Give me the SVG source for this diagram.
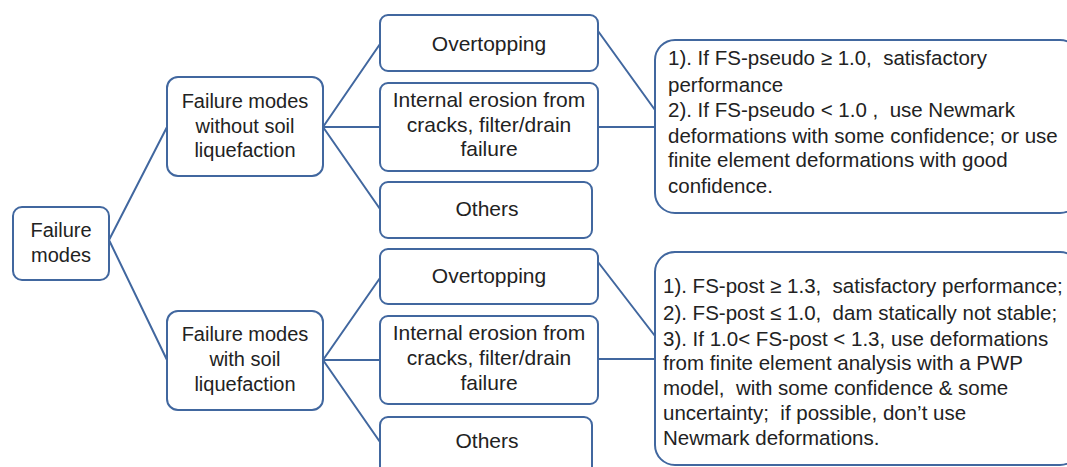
<svg xmlns="http://www.w3.org/2000/svg" width="1067" height="467" viewBox="0 0 1067 467">
<style>
.box{fill:#ffffff;stroke:#41679f;stroke-width:2}
.ln{fill:none;stroke:#41679f;stroke-width:2}
text{font-family:"Liberation Sans",Arial,sans-serif;font-size:20px;fill:#222222;white-space:pre}
.c{text-anchor:middle}
.m{font-size:21px}
.t{font-size:20.5px}
</style>
<rect width="1067" height="467" fill="#ffffff"/>
<g id="connectors">
<path class="ln" d="M109,240 L167,127 M109,240 L167,360"/>
<path class="ln" d="M323,127 L380,44 M323,127 L380,127 M323,127 L380,209"/>
<path class="ln" d="M323,360 L380,278 M323,360 L380,360 M323,360 L380,442"/>
<path class="ln" d="M598,31 L655,110 M598,127 L655,127"/>
<path class="ln" d="M598,262 L655,336 M598,359 L655,359"/>
</g>
<g id="root">
<rect class="box" x="13" y="207" width="96" height="73" rx="9"/>
<text class="c" x="61" y="237">Failure</text>
<text class="c" x="61" y="262">modes</text>
</g>
<g id="without">
<rect class="box" x="167" y="77" width="156" height="99" rx="11"/>
<text class="c" x="245" y="108">Failure modes</text>
<text class="c" x="245" y="133">without soil</text>
<text class="c" x="245" y="157">liquefaction</text>
</g>
<g id="with">
<rect class="box" x="167" y="311" width="156" height="99" rx="11"/>
<text class="c" x="245" y="341">Failure modes</text>
<text class="c" x="245" y="366">with soil</text>
<text class="c" x="245" y="391">liquefaction</text>
</g>
<g id="overtopping1">
<rect class="box" x="380" y="15" width="218" height="56" rx="8"/>
<text class="c m" x="489" y="51">Overtopping</text>
</g>
<g id="erosion1">
<rect class="box" x="380" y="83" width="218" height="88" rx="8"/>
<text class="c m" x="489" y="107">Internal erosion from</text>
<text class="c m" x="489" y="132">cracks, filter/drain</text>
<text class="c m" x="489" y="156">failure</text>
</g>
<g id="others1">
<rect class="box" x="380" y="182" width="212" height="56" rx="8"/>
<text class="c m" x="487" y="216">Others</text>
</g>
<g id="overtopping2">
<rect class="box" x="380" y="249" width="218" height="55" rx="8"/>
<text class="c m" x="489" y="283">Overtopping</text>
</g>
<g id="erosion2">
<rect class="box" x="380" y="316" width="218" height="88" rx="8"/>
<text class="c m" x="489" y="340">Internal erosion from</text>
<text class="c m" x="489" y="365">cracks, filter/drain</text>
<text class="c m" x="489" y="390">failure</text>
</g>
<g id="others2">
<rect class="box" x="380" y="417" width="212" height="60" rx="8"/>
<text class="c m" x="487" y="448">Others</text>
</g>
<g id="criteria1">
<rect class="box" x="655" y="40" width="425" height="173" rx="20"/>
<text class="t" x="668" y="65" xml:space="preserve">1). If FS-pseudo ≥ 1.0,  satisfactory</text>
<text class="t" x="668" y="92">performance</text>
<text class="t" x="668" y="117" xml:space="preserve">2). If FS-pseudo &lt; 1.0 ,  use Newmark</text>
<text class="t" x="668" y="143">deformations with some confidence; or use</text>
<text class="t" x="668" y="167">finite element deformations with good</text>
<text class="t" x="668" y="193">confidence.</text>
</g>
<g id="criteria2">
<rect class="box" x="655" y="252" width="425" height="213" rx="20"/>
<text class="t" x="663" y="293" xml:space="preserve">1). FS-post ≥ 1.3,  satisfactory performance;</text>
<text class="t" x="663" y="320" xml:space="preserve">2). FS-post ≤ 1.0,  dam statically not stable;</text>
<text class="t" x="663" y="346">3). If 1.0&lt; FS-post &lt; 1.3, use deformations</text>
<text class="t" x="663" y="370">from finite element analysis with a PWP</text>
<text class="t" x="663" y="395" xml:space="preserve">model,  with some confidence &amp; some</text>
<text class="t" x="663" y="420" xml:space="preserve">uncertainty;  if possible, don’t use</text>
<text class="t" x="663" y="445">Newmark deformations.</text>
</g>
</svg>
